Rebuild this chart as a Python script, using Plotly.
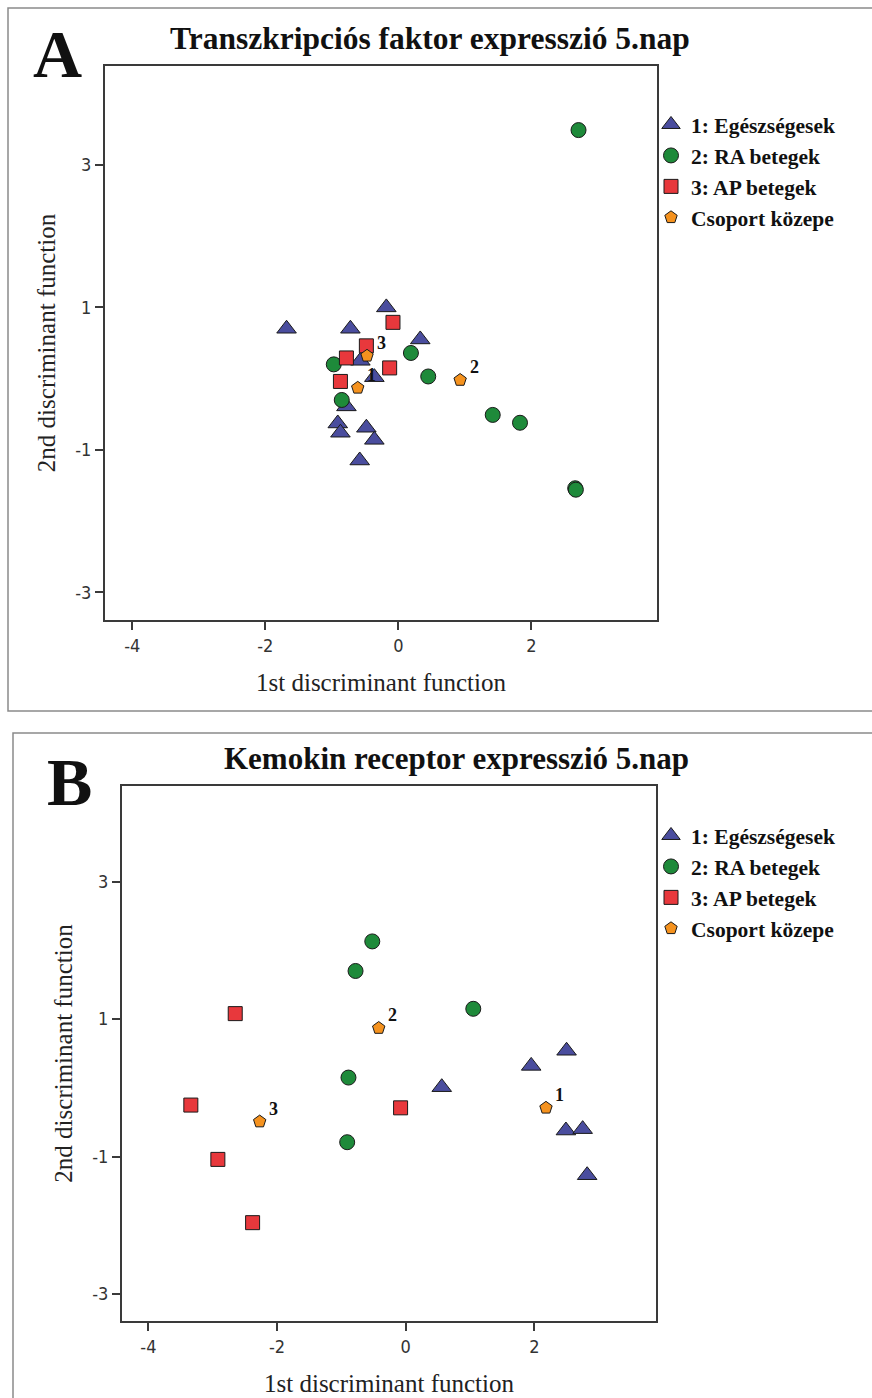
import plotly.graph_objects as go

# ---- Panel A: transcription factor expression, day 5 ----
a_healthy_x = [-1.68, -0.72, -0.18, 0.33, -0.57, -0.36, -0.78, -0.91, -0.87, -0.48, -0.36, -0.58]
a_healthy_y = [0.70, 0.70, 1.00, 0.55, 0.25, 0.02, -0.39, -0.63, -0.76, -0.69, -0.86, -1.15]
a_ra_x = [2.71, 0.19, -0.97, 0.45, -0.85, 1.42, 1.83, 2.66, 2.67]
a_ra_y = [3.49, 0.36, 0.20, 0.03, -0.30, -0.51, -0.62, -1.54, -1.56]
a_ap_x = [-0.08, -0.48, -0.78, -0.13, -0.87]
a_ap_y = [0.79, 0.46, 0.29, 0.15, -0.04]
a_cent_x = [-0.61, 0.93, -0.47]
a_cent_y = [-0.13, -0.02, 0.32]

# ---- Panel B: chemokine receptor expression, day 5 ----
b_healthy_x = [2.50, 1.95, 0.56, 2.49, 2.75, 2.82]
b_healthy_y = [0.54, 0.32, 0.01, -0.62, -0.60, -1.27]
b_ra_x = [-0.52, -0.78, -0.89, -0.91, 1.05]
b_ra_y = [2.13, 1.70, 0.15, -0.79, 1.15]
b_ap_x = [-2.65, -3.34, -0.08, -2.92, -2.38]
b_ap_y = [1.08, -0.25, -0.29, -1.04, -1.96]
b_cent_x = [2.18, -0.42, -2.27]
b_cent_y = [-0.29, 0.87, -0.49]

cent_labels = ["1", "2", "3"]
group_names = ["1: Egészségesek", "2: RA betegek", "3: AP betegek", "Csoport közepe"]
x_ticks = [-4, -2, 0, 2]
y_ticks = [-3, -1, 1, 3]

W, H = 872, 1398
SERIF = "Liberation Serif, Times New Roman, serif"
NARROW = "DejaVu Sans Condensed, Liberation Sans Narrow, Liberation Sans, sans-serif"

BLUE = "#4a4d9e"
GREEN = "#1e8a3a"
RED = "#e8383c"
ORANGE = "#f5921e"

def px_x(p):
    return p / W

def px_y(p):
    return 1 - p / H

fig = go.Figure()

def add_panel(suffix, legend, hx, hy, rx, ry, ax, ay, cx, cy):
    xa = "x" + suffix
    ya = "y" + suffix
    specs = [
        (hx, hy, "triangle-up", 17, BLUE),
        (rx, ry, "circle", 15, GREEN),
        (ax, ay, "square", 14, RED),
        (cx, cy, "pentagon", 13, ORANGE),
    ]
    for (xs, ys, sym, size, col), name in zip(specs, group_names):
        fig.add_trace(go.Scatter(
            x=xs, y=ys, mode="markers", name=name,
            xaxis=xa, yaxis=ya, legend=legend,
            marker=dict(symbol=sym, size=size, color=col,
                        line=dict(color="#1a1a1a", width=1)),
            showlegend=True,
        ))
    for lx, ly, lab in zip(cx, cy, cent_labels):
        fig.add_annotation(
            x=lx, y=ly, xref=xa, yref=ya, text="<b>" + lab + "</b>",
            showarrow=False, xshift=14, yshift=13,
            font=dict(family=SERIF, size=18, color="#111"),
        )

add_panel("", "legend", a_healthy_x, a_healthy_y, a_ra_x, a_ra_y,
          a_ap_x, a_ap_y, a_cent_x, a_cent_y)
add_panel("2", "legend2", b_healthy_x, b_healthy_y, b_ra_x, b_ra_y,
          b_ap_x, b_ap_y, b_cent_x, b_cent_y)

axis_common = dict(
    showgrid=False, zeroline=False, showline=True, mirror=True,
    linecolor="#3a3a3a", linewidth=2,
    ticks="outside", ticklen=8, tickwidth=1.5, tickcolor="#3a3a3a",
    tickfont=dict(family=NARROW, size=18, color="#333"),
)
x_common = dict(axis_common, range=[-4.41, 3.89], tickvals=x_ticks,
                ticktext=[str(v) for v in x_ticks],
                title=dict(text="1st discriminant function",
                           font=dict(family=SERIF, size=25, color="#222"),
                           standoff=19))
y_common = dict(axis_common, range=[-3.39, 4.39], tickvals=y_ticks,
                ticktext=[str(v) for v in y_ticks],
                title=dict(text="2nd discriminant function",
                           font=dict(family=SERIF, size=25, color="#222"),
                           standoff=12))

legend_common = dict(
    font=dict(family=SERIF, size=21.5, color="#111", weight="bold"),
    bgcolor="rgba(0,0,0,0)", itemsizing="trace", tracegroupgap=0,
    xanchor="left", yanchor="top",
)

fig.update_layout(
    width=W, height=H,
    margin=dict(l=0, r=0, t=0, b=0),
    paper_bgcolor="white", plot_bgcolor="white",
    xaxis=dict(x_common, domain=[px_x(105), px_x(657)], anchor="y"),
    yaxis=dict(y_common, domain=[px_y(620), px_y(66)], anchor="x"),
    xaxis2=dict(x_common, domain=[px_x(122), px_x(656)], anchor="y2"),
    yaxis2=dict(y_common, domain=[px_y(1321), px_y(786)], anchor="x2"),
    legend=dict(legend_common, x=px_x(651), y=px_y(104)),
    legend2=dict(legend_common, x=px_x(651), y=px_y(815)),
    shapes=[
        dict(type="rect", xref="paper", yref="paper",
             x0=px_x(8), x1=1.02, y0=px_y(711), y1=px_y(8),
             line=dict(color="#8a8a8a", width=1.5), layer="below"),
        dict(type="rect", xref="paper", yref="paper",
             x0=px_x(13), x1=1.02, y0=-0.02, y1=px_y(733),
             line=dict(color="#8a8a8a", width=1.5), layer="below"),
    ],
)

# Panel titles and letters
for txt, x, y, size in [
    ("Transzkripciós faktor expresszió 5.nap", 430, 38, 31.5),
    ("Kemokin receptor expresszió 5.nap", 456, 758, 31),
]:
    fig.add_annotation(x=px_x(x), y=px_y(y), xref="paper", yref="paper",
                       text="<b>" + txt + "</b>", showarrow=False,
                       xanchor="center", yanchor="middle",
                       font=dict(family=SERIF, size=size, color="#111"))
for txt, x, y in [("A", 57, 54), ("B", 69, 782)]:
    fig.add_annotation(x=px_x(x), y=px_y(y), xref="paper", yref="paper",
                       text="<b>" + txt + "</b>", showarrow=False,
                       xanchor="center", yanchor="middle",
                       font=dict(family=SERIF, size=68, color="#111"))

fig.write_html("out.html")
